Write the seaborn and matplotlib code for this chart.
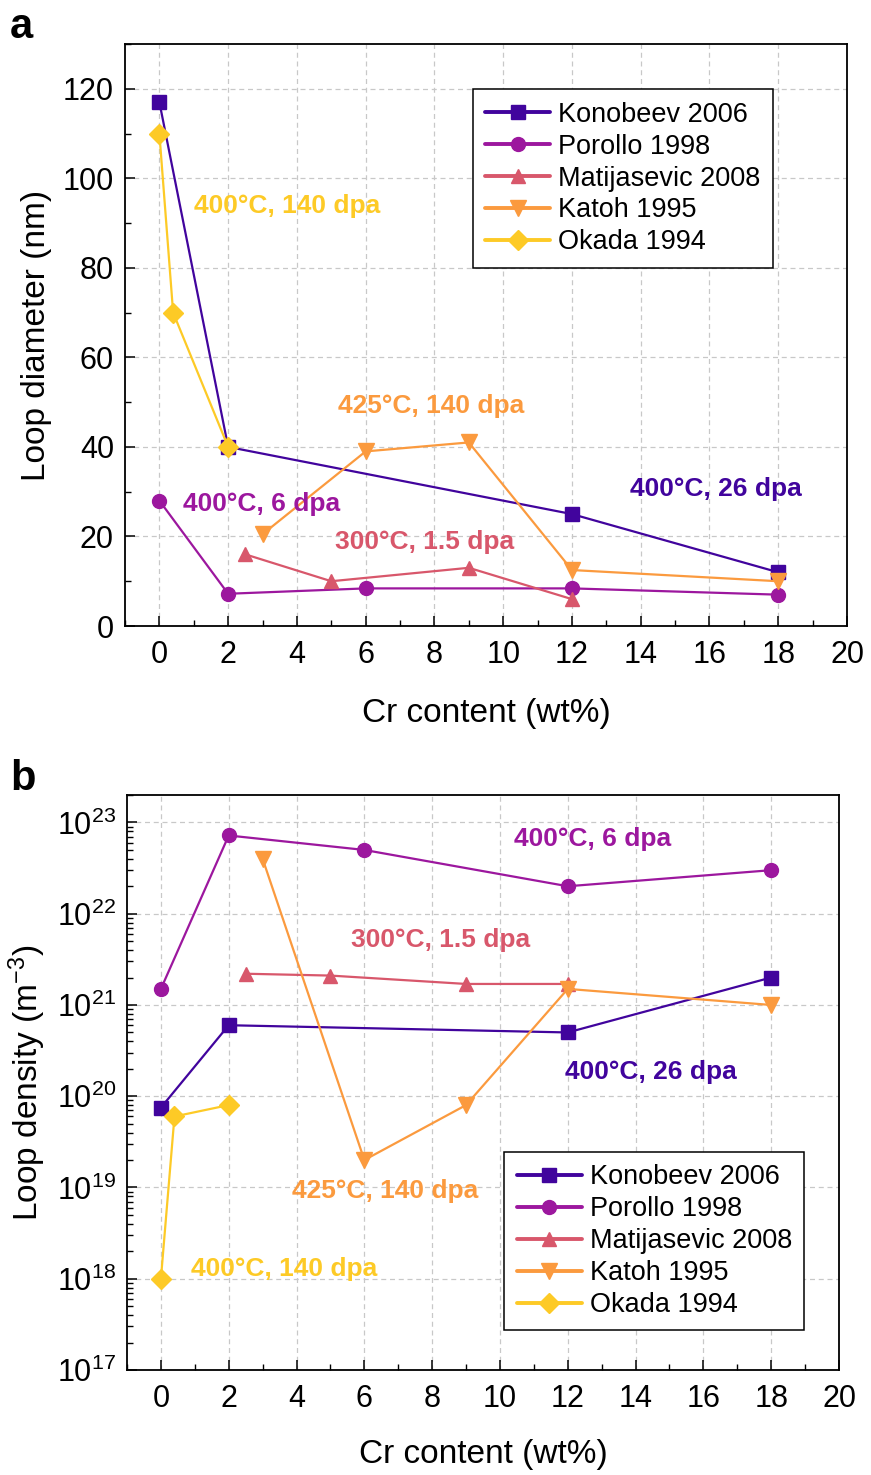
import numpy as np
import pandas as pd
import matplotlib
matplotlib.use("Agg")
import matplotlib.pyplot as plt
import seaborn as sns
from matplotlib.ticker import MultipleLocator, LogLocator, NullFormatter

sns.set_theme(style="ticks")
plt.rcParams['font.family'] = ['Liberation Sans', 'DejaVu Sans']
plt.rcParams['mathtext.fontset'] = 'custom'
plt.rcParams['mathtext.rm'] = 'Liberation Sans'
plt.rcParams['mathtext.it'] = 'Liberation Sans:italic'
plt.rcParams['mathtext.bf'] = 'Liberation Sans:bold'
plt.rcParams['text.color'] = 'black'
plt.rcParams['axes.labelcolor'] = 'black'
plt.rcParams['xtick.color'] = 'black'
plt.rcParams['ytick.color'] = 'black'
plt.rcParams['xtick.labelcolor'] = 'black'
plt.rcParams['ytick.labelcolor'] = 'black'

# ---------------- data ----------------
studies = ["Konobeev 2006", "Porollo 1998", "Matijasevic 2008", "Katoh 1995", "Okada 1994"]
colors = ["#41049d", "#9c179e", "#d8576b", "#fb9a3e", "#fdca26"]
markers = ["s", "o", "^", "v", "D"]

konobeev_x = [0, 2, 12, 18]
porollo_x = [0, 2, 6, 12, 18]
matijasevic_x = [2.5, 5, 9, 12]
katoh_x = [3, 6, 9, 12, 18]
okada_x = [0, 0.4, 2]

# loop diameter (nm)
konobeev_d = [117, 40, 25, 12]
porollo_d = [28, 7.2, 8.4, 8.4, 7.0]
matijasevic_d = [16, 10, 13, 6]
katoh_d = [20.5, 39, 41, 12.5, 10]
okada_d = [110, 70, 40]

# loop density (m^-3)
konobeev_n = [7.5e19, 6e20, 5e20, 2e21]
porollo_n = [1.5e21, 7.2e22, 5e22, 2e22, 3e22]
matijasevic_n = [2.2e21, 2.1e21, 1.7e21, 1.7e21]
katoh_n = [4e22, 2e19, 8e19, 1.5e21, 1e21]
okada_n = [1e18, 6e19, 8e19]

conditions = ["400°C, 26 dpa", "400°C, 6 dpa", "300°C, 1.5 dpa", "425°C, 140 dpa", "400°C, 140 dpa"]

xs = [konobeev_x, porollo_x, matijasevic_x, katoh_x, okada_x]
ds = [konobeev_d, porollo_d, matijasevic_d, katoh_d, okada_d]
ns = [konobeev_n, porollo_n, matijasevic_n, katoh_n, okada_n]

x_ticks = list(range(0, 21, 2))
d_ticks = list(range(0, 121, 20))

# annotation anchors (left x, center y) in data coordinates
ann_top = [(13.68, 30.7), (0.69, 27.3), (5.1, 18.75), (5.2, 49.1), (1.02, 93.9)]
ann_bot = [(11.92, 10**20.27), (10.41, 10**22.82), (5.62, 10**21.71), (3.88, 10**18.96), (0.88, 10**18.11)]

msizes = [9.5, 10, 10, 11, 10.5]

fig = plt.figure(figsize=(8.71, 14.75), dpi=100)
ax1 = fig.add_axes([125/871, 1-626/1475, 722/871, 582/1475])
ax2 = fig.add_axes([127/871, 1-1370/1475, 712/871, 575/1475])

for ax, ys in ((ax1, ds), (ax2, ns)):
    for i in range(5):
        df = pd.DataFrame({"x": xs[i], "y": ys[i]})
        sns.lineplot(data=df, x="x", y="y", ax=ax, color=colors[i], marker=markers[i],
                     markersize=msizes[i], markeredgecolor=colors[i], markeredgewidth=1,
                     linewidth=1.6, label=studies[i], estimator=None, sort=False)

# ---- top axes formatting ----
ax1.set_xlim(-1, 20)
ax1.set_ylim(0, 130)
ax1.set_xticks(x_ticks)
ax1.set_yticks(d_ticks)
ax1.xaxis.set_minor_locator(MultipleLocator(1))
ax1.yaxis.set_minor_locator(MultipleLocator(10))
ax1.set_ylabel("Loop diameter (nm)", fontsize=24, labelpad=8)
ax1.set_xlabel("Cr content (wt%)", fontsize=24, labelpad=20)

# ---- bottom axes formatting ----
ax2.set_yscale("log")
ax2.set_xlim(-1, 20)
ax2.set_xticks(x_ticks)
ax2.xaxis.set_minor_locator(MultipleLocator(1))
ax2.yaxis.set_minor_locator(LogLocator(base=10, subs=np.arange(2, 10), numticks=50))
ax2.yaxis.set_minor_formatter(NullFormatter())
ax2.set_yticks([1e17, 1e18, 1e19, 1e20, 1e21, 1e22, 1e23])
ax2.set_yticklabels([r"$\mathregular{10^{%d}}$" % k for k in range(17, 24)])
ax2.set_ylim(1e17, 2e23)
ax2.set_ylabel(r"Loop density (m$\mathregular{^{-3}}$)", fontsize=24, labelpad=6)
ax2.set_xlabel("Cr content (wt%)", fontsize=24, labelpad=18)

for ax in (ax1, ax2):
    ax.grid(True, which="major", linestyle=(0, (4, 3)), color="#c8c8c8", linewidth=0.9)
    ax.set_axisbelow(True)
    ax.tick_params(axis="both", which="major", direction="in", length=7, width=1.1,
                   labelsize=22, color="black", labelcolor="black")
    ax.tick_params(axis="x", which="major", pad=10)
    ax.tick_params(axis="y", which="major", pad=8)
    ax.tick_params(axis="both", which="minor", direction="in", length=4, width=1.0, color="black")
    ax.tick_params(top=False, right=False, which="both")
    for s in ax.spines.values():
        s.set_linewidth(1.3)
        s.set_color("black")
        s.set_visible(True)

for ax, anns in ((ax1, ann_top), (ax2, ann_bot)):
    for i in range(5):
        ax.text(anns[i][0], anns[i][1], conditions[i], color=colors[i], fontsize=19,
                fontweight="bold", ha="left", va="center")

leg_kw = dict(fontsize=19.5, frameon=True, fancybox=False, edgecolor="black",
              handlelength=2.4, labelspacing=0.22, borderpad=0.45, handletextpad=0.3,
              borderaxespad=0)
l1 = ax1.legend(loc="upper left", bbox_to_anchor=(0.482, 0.922), **leg_kw)
l2 = ax2.legend(loc="lower left", bbox_to_anchor=(0.530, 0.069), **leg_kw)
for l in (l1, l2):
    l.get_frame().set_linewidth(1.1)
    l.get_frame().set_alpha(1)
    for t in l.get_texts():
        t.set_color("black")
    for h in l.legend_handles:
        h.set_linewidth(2.8)

fig.text(10/871, 1-38/1475, "a", fontsize=30, fontweight="bold", ha="left", va="baseline")
fig.text(10/871, 1-790/1475, "b", fontsize=30, fontweight="bold", ha="left", va="baseline")

fig.savefig("out.png", dpi=100)
